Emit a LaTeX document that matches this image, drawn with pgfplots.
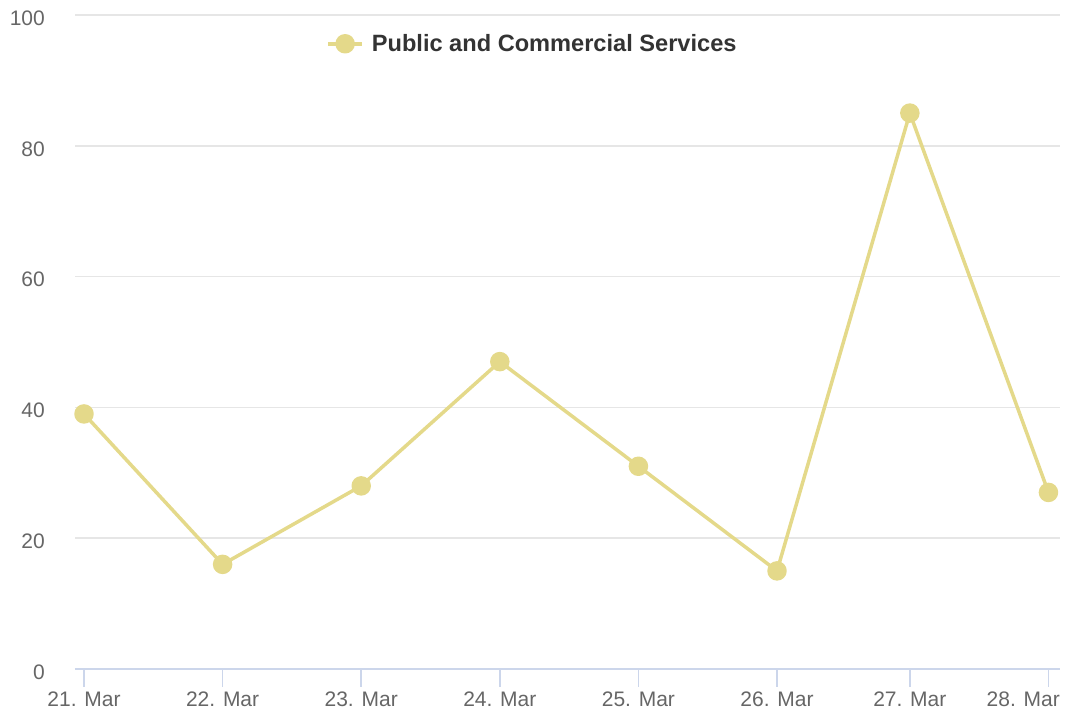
\documentclass[border=0pt]{standalone}
\usepackage{fontspec}
\setmainfont{Liberation Sans}
\usepackage{pgfplots}
\pgfplotsset{compat=1.18}
\definecolor{series}{HTML}{E4D98A}
\definecolor{gridc}{HTML}{E6E6E6}
\definecolor{axisc}{HTML}{CCD6EB}
\definecolor{labelc}{HTML}{666666}
\definecolor{legendc}{HTML}{333333}
\begin{document}
\begin{tikzpicture}
\useasboundingbox (-75bp,-42bp) rectangle (1002bp,669bp);
\begin{axis}[
  scale only axis,
  width=985bp, height=654bp,
  at={(0,0)}, anchor=south west,
  xmin=-1.56, xmax=169,
  ymin=0, ymax=100,
  axis lines*=left,
  x axis line style={axisc, line width=2bp},
  y axis line style={draw=none},
  xtick={0,24,48,72,96,120,143},
  xticklabels={21. Mar,22. Mar,23. Mar,24. Mar,25. Mar,26. Mar,27. Mar},
  extra x ticks={167},
  extra x tick labels={28. Mar},
  extra x tick style={xticklabel style={anchor=north east, xshift=11.6bp}},
  tick align=outside,
  major tick length=18bp,
  xtick style={axisc, line width=1.5bp},
  ytick={0,20,40,60,80,100},
  yticklabels={0,20,40,60,80,100},
  ytick style={draw=none},
  ymajorgrids=true,
  grid style={gridc, line width=1.5bp},
  tick label style={font=\fontsize{21bp}{25bp}\selectfont, text=labelc, inner sep=0pt},
  xticklabel style={anchor=north, yshift=-5bp},
  yticklabel style={anchor=east, xshift=-12bp, yshift=-3bp},
  legend style={at={(0.255,0.956)}, anchor=west, draw=none, fill=none,
    inner sep=0pt, nodes={inner sep=0pt}, column sep=8bp,
    font=\fontsize{23.6bp}{28bp}\selectfont\bfseries, text=legendc},
  legend image code/.code={
    \draw[#1, mark repeat=2, mark phase=2] plot coordinates {(0bp,0bp) (17bp,0bp) (34bp,0bp)};},
  ]
  \addplot[
    series,
    line width=3.5bp,
    line join=round,
    mark=*,
    mark size=8bp,
    mark options={solid, draw=none, fill=series},
    ]
    coordinates {
      (0,39)(24,16)(48,28)(72,47)(96,31)(120,15)(143,85)(167,27)
    };
  \addlegendentry{Public and Commercial Services}
\end{axis}
\end{tikzpicture}
\end{document}
